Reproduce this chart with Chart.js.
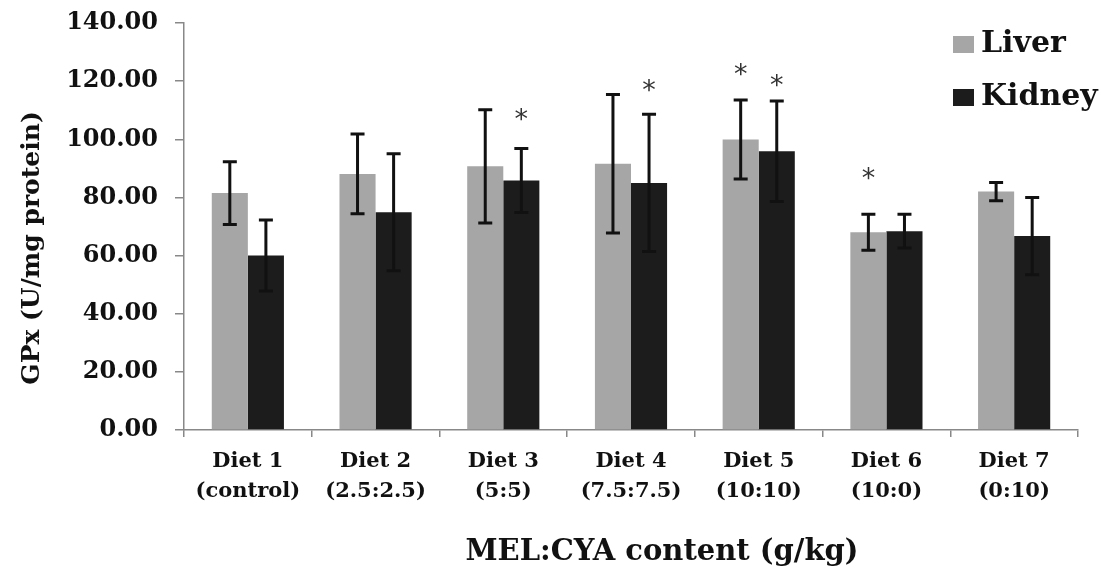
<!DOCTYPE html>
<html>
<head>
<meta charset="utf-8">
<script src="https://cdn.jsdelivr.net/npm/chart.js@4.4.1/dist/chart.umd.min.js"></script>
<style>
  html, body { margin: 0; padding: 0; background: #fff; }
  #wrap { width: 1111px; height: 577px; }
</style>
</head>
<body>
<div id="wrap"><canvas id="gpxChart" width="1111" height="577"></canvas></div>
<script>
// data
const categories = [
  ["Diet 1", "(control)"],
  ["Diet 2", "(2.5:2.5)"],
  ["Diet 3", "(5:5)"],
  ["Diet 4", "(7.5:7.5)"],
  ["Diet 5", "(10:10)"],
  ["Diet 6", "(10:0)"],
  ["Diet 7", "(0:10)"]
];
const liver = [81.5, 88.1, 90.7, 91.6, 99.9, 68.0, 82.0];
const liverErr = [10.8, 13.7, 19.5, 23.8, 13.6, 6.2, 3.1];
const kidney = [60.0, 74.9, 85.8, 85.0, 95.9, 68.4, 66.7];
const kidneyErr = [12.2, 20.1, 11.0, 23.6, 17.3, 5.8, 13.3];
// where the "*" marks sit (value units), null = no mark
const liverSig = [null, null, null, null, 124.0, 88.1, null];
const kidneySig = [null, null, 108.4, 118.4, 120.1, null, null];
const yTicks = [0, 20, 40, 60, 80, 100, 120, 140];

const FONT = "'DejaVu Serif', 'Liberation Serif', serif";

// error bars + asterisks
const errorBars = {
  id: "errorBars",
  afterDatasetsDraw(chart) {
    const ctx = chart.ctx;
    const y = chart.scales.y;
    chart.data.datasets.forEach((ds, i) => {
      const meta = chart.getDatasetMeta(i);
      meta.data.forEach((bar, j) => {
        const v = ds.data[j], e = ds.err[j];
        const top = y.getPixelForValue(v + e);
        const bot = y.getPixelForValue(v - e);
        ctx.save();
        ctx.strokeStyle = "#111";
        ctx.lineWidth = 3;
        ctx.beginPath();
        ctx.moveTo(bar.x, top); ctx.lineTo(bar.x, bot);
        ctx.moveTo(bar.x - 7, top); ctx.lineTo(bar.x + 7, top);
        ctx.moveTo(bar.x - 7, bot); ctx.lineTo(bar.x + 7, bot);
        ctx.stroke();
        if (ds.sig[j] != null) {
          ctx.fillStyle = "#333";
          ctx.font = "27px 'DejaVu Sans', sans-serif";
          ctx.textAlign = "center";
          ctx.textBaseline = "alphabetic";
          const m = ctx.measureText("*");
          const cy = y.getPixelForValue(ds.sig[j]);
          const off = (m.actualBoundingBoxAscent - m.actualBoundingBoxDescent) / 2;
          ctx.fillText("*", bar.x, cy + off);
        }
        ctx.restore();
      });
    });
  }
};

// legend and axis titles
const decorations = {
  id: "decorations",
  afterDraw(chart) {
    const ctx = chart.ctx;
    const area = chart.chartArea;
    ctx.save();
    ctx.fillStyle = "#111";
    // y title
    ctx.font = "bold 25px " + FONT;
    ctx.textAlign = "center";
    ctx.textBaseline = "middle";
    ctx.translate(32, 248);
    ctx.rotate(-Math.PI / 2);
    ctx.fillText("GPx (U/mg protein)", 0, 0);
    ctx.restore();

    ctx.save();
    ctx.fillStyle = "#111";
    ctx.font = "bold 29px " + FONT;
    ctx.textAlign = "center";
    ctx.textBaseline = "middle";
    ctx.fillText("MEL:CYA content (g/kg)", (area.left + area.right) / 2 + 31, 552);

    // legend
    const rows = [44, 97];
    chart.data.datasets.forEach((ds, i) => {
      ctx.fillStyle = ds.backgroundColor;
      ctx.fillRect(953, rows[i] - 8, 21, 17);
      ctx.fillStyle = "#111";
      ctx.font = "bold 30px " + FONT;
      ctx.textAlign = "left";
      ctx.fillText(ds.label, 981, rows[i]);
    });
    ctx.restore();
  }
};

new Chart(document.getElementById("gpxChart"), {
  type: "bar",
  data: {
    labels: categories,
    datasets: [
      { label: "Liver", data: liver, err: liverErr, sig: liverSig,
        backgroundColor: "#a6a6a6", barPercentage: 1, categoryPercentage: 0.565 },
      { label: "Kidney", data: kidney, err: kidneyErr, sig: kidneySig,
        backgroundColor: "#1c1c1c", barPercentage: 1, categoryPercentage: 0.565 }
    ]
  },
  options: {
    responsive: false,
    animation: false,
    layout: { padding: { top: 18, right: 33, left: 0, bottom: 0 } },
    plugins: { legend: { display: false }, tooltip: { enabled: false } },
    scales: {
      x: {
        afterFit(s) { s.height = 147; },
        border: { color: "#888", width: 1.5 },
        grid: { offset: true, drawOnChartArea: false, tickLength: 7, color: "#888", lineWidth: 1.5 },
        ticks: {
          color: "#111", padding: 10,
          font: { family: FONT, size: 21, weight: "bold", lineHeight: 1.42 }
        }
      },
      y: {
        min: 0, max: 140,
        afterFit(s) { s.width = 184; },
        afterBuildTicks(s) { s.ticks = yTicks.map(v => ({ value: v })); },
        border: { color: "#888", width: 1.5 },
        grid: { drawOnChartArea: false, tickLength: 9, color: "#888", lineWidth: 1.5 },
        ticks: {
          color: "#111", padding: 17,
          font: { family: FONT, size: 24, weight: "bold", lineHeight: 0.5 },
          callback: v => v.toFixed(2)
        }
      }
    }
  },
  plugins: [errorBars, decorations]
});
</script>
</body>
</html>
